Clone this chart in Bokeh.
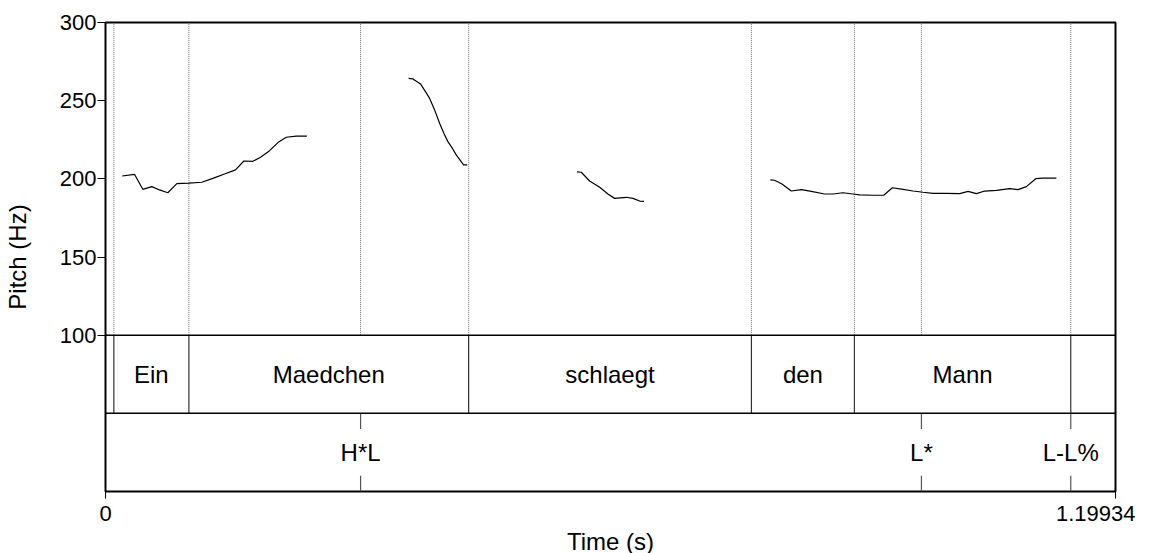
from bokeh.plotting import figure
from bokeh.models import Range1d, FixedTicker, CustomJSTickFormatter, Span
from bokeh.embed import file_html
from bokeh.resources import INLINE
from bokeh.core.properties import value

FONT = "Liberation Sans"

t_start = 0.0
t_end = 1.19934

# Pitch contour segments (time in s, pitch in Hz)
seg1_t = [0.0198, 0.0344, 0.0443, 0.0550, 0.0641, 0.0740, 0.0847, 0.0989, 0.1144, 0.1275,
          0.1413, 0.1544, 0.1643, 0.1750, 0.1841, 0.1948, 0.2047, 0.2146, 0.2265, 0.2391]
seg1_f = [201.8, 202.9, 193.3, 195.0, 192.9, 191.1, 196.9, 197.3, 197.8, 200.3,
          203.1, 205.7, 211.4, 211.2, 213.8, 218.0, 223.2, 226.6, 227.3, 227.3]
seg2_t = [0.3599, 0.3650, 0.3741, 0.3848, 0.3908, 0.3967, 0.4018, 0.4066, 0.4118, 0.4165, 0.4252, 0.4296]
seg2_f = [264.2, 263.9, 260.7, 251.6, 244.1, 235.6, 229.2, 223.8, 219.6, 215.3, 208.9, 208.9]
seg3_t = [0.5598, 0.5650, 0.5749, 0.5868, 0.5966, 0.6046, 0.6185, 0.6263, 0.6343, 0.6394]
seg3_f = [204.4, 204.2, 198.6, 194.6, 190.3, 187.5, 188.2, 187.5, 185.8, 185.6]
seg4_t = [0.7895, 0.7946, 0.8033, 0.8144, 0.8263, 0.8382, 0.8540, 0.8639, 0.8758, 0.8876,
          0.8956, 0.9114, 0.9241, 0.9344, 0.9470, 0.9589, 0.9708, 0.9827, 0.9986, 1.0144,
          1.0242, 1.0342, 1.0440, 1.0579, 1.0737, 1.0836, 1.0935, 1.1046, 1.1133, 1.1292]
seg4_f = [199.3, 199.1, 196.7, 192.2, 193.1, 192.0, 190.3, 190.3, 191.1, 190.3,
          189.7, 189.5, 189.5, 194.3, 193.3, 192.2, 191.4, 190.7, 190.7, 190.5,
          192.0, 190.5, 192.2, 192.6, 193.7, 193.1, 195.0, 200.1, 200.5, 200.5]

# Word tier (interval tier)
word_bounds = [0.0, 0.0099, 0.0990, 0.4312, 0.7670, 0.8893, 1.1462, 1.19934]
word_labels = ["", "Ein", "Maedchen", "schlaegt", "den", "Mann", ""]

# Tone tier (point tier)
tone_times = [0.3029, 0.9689, 1.1462]
tone_labels = ["H*L", "L*", "L-L%"]

pitch_ticks = [100, 150, 200, 250, 300]
time_ticks = [t_start, t_end]

# Vertical layout in data units: pitch 100..300, word tier 50..100, tone tier 0..50
PITCH_MIN, PITCH_MAX = 100, 300
WORD_LO, WORD_HI = 50, 100
TONE_LO, TONE_HI = 0, 50

p = figure(frame_width=1010, frame_height=469,
           min_border_left=105, min_border_right=20, min_border_top=22, min_border_bottom=40,
           x_range=Range1d(t_start, t_end), y_range=Range1d(TONE_LO, PITCH_MAX),
           output_backend="svg", toolbar_location=None)
p.background_fill_color = "white"
p.border_fill_color = "white"
p.xgrid.visible = False
p.ygrid.visible = False
p.outline_line_color = "black"
p.outline_line_width = 2
p.outline_line_alpha = 1

# Axes
p.yaxis.ticker = FixedTicker(ticks=pitch_ticks)
p.yaxis.axis_label = "Pitch (Hz)"
p.xaxis.ticker = FixedTicker(ticks=time_ticks)
p.xaxis.formatter = CustomJSTickFormatter(code="return tick == 0 ? '0' : tick.toFixed(5);")
p.xaxis.axis_label = "Time (s)"
for ax in (p.xaxis, p.yaxis):
    ax.axis_line_color = None
    ax.minor_tick_line_color = None
    ax.major_tick_in = 0
    ax.major_tick_line_color = "black"
    ax.major_tick_line_width = 1
    ax.major_label_text_font = FONT
    ax.major_label_text_font_size = "22px"
    ax.major_label_text_color = "black"
    ax.axis_label_text_font = FONT
    ax.axis_label_text_font_size = "24px"
    ax.axis_label_text_font_style = "normal"
    ax.axis_label_text_color = "black"
p.yaxis.major_tick_out = 8
p.yaxis.major_label_standoff = 1
p.yaxis.axis_label_standoff = 26
p.xaxis.major_tick_out = 7
p.xaxis.major_label_standoff = 7
p.xaxis.axis_label_standoff = 4

# Dotted boundary lines through the pitch area
inner_bounds = word_bounds[1:-1]
dotted_x = sorted(set(inner_bounds + tone_times))
p.segment(x0=dotted_x, y0=[PITCH_MIN] * len(dotted_x), x1=dotted_x, y1=[PITCH_MAX] * len(dotted_x),
          line_color="#6e6e6e", line_width=1, line_dash="1 1")

# Tier separators
p.add_layout(Span(location=PITCH_MIN, dimension="width", line_color="black", line_width=1.5))
p.add_layout(Span(location=WORD_LO, dimension="width", line_color="black", line_width=1.5))

# Word tier boundaries and labels
p.segment(x0=inner_bounds, y0=[WORD_LO] * len(inner_bounds), x1=inner_bounds, y1=[WORD_HI] * len(inner_bounds),
          line_color="#333333", line_width=1.2)
centers = [(a + b) / 2 for a, b in zip(word_bounds[:-1], word_bounds[1:])]
p.text(x=centers, y=[(WORD_LO + WORD_HI) / 2] * len(centers), text=word_labels,
       text_align="center", text_baseline="middle", text_color="black",
       text_font=value(FONT), text_font_size="24px")

# Tone tier point marks and labels
n = len(tone_times)
p.segment(x0=tone_times, y0=[TONE_HI] * n, x1=tone_times, y1=[TONE_HI - 10] * n,
          line_color="#555555", line_width=1.2)
p.segment(x0=tone_times, y0=[TONE_LO] * n, x1=tone_times, y1=[TONE_LO + 10] * n,
          line_color="#555555", line_width=1.2)
p.text(x=tone_times, y=[(TONE_LO + TONE_HI) / 2] * n, text=tone_labels,
       text_align="center", text_baseline="middle", text_color="black",
       text_font=value(FONT), text_font_size="24px")

# Pitch contour
p.multi_line(xs=[seg1_t, seg2_t, seg3_t, seg4_t], ys=[seg1_f, seg2_f, seg3_f, seg4_f],
             line_color="black", line_width=1.2)

open("out.html", "w").write(file_html(p, INLINE))
